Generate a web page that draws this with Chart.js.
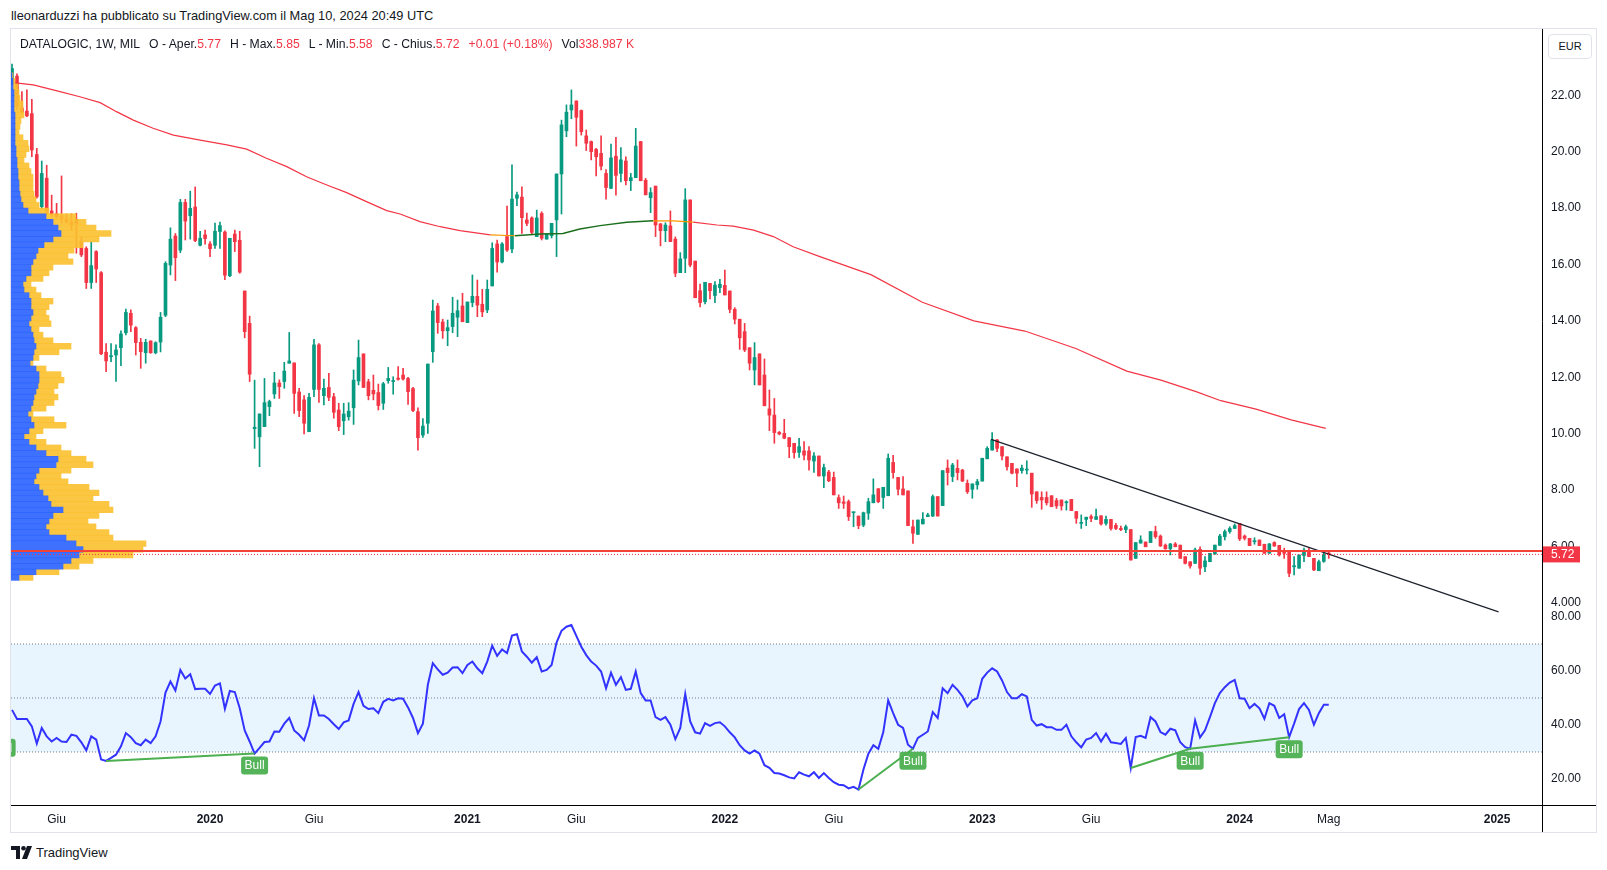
<!DOCTYPE html>
<html>
<head>
<meta charset="utf-8">
<script src="https://cdn.jsdelivr.net/npm/chart.js@4.4.1/dist/chart.umd.min.js"></script>
<style>
  body { margin: 0; width: 1607px; height: 870px; position: relative; overflow: hidden; background: #fff;
         font-family: "Liberation Sans", Arial, sans-serif; color: #131722; }
  #title { position: absolute; left: 11px; top: 8px; font-size: 12.8px; white-space: nowrap; }
  #frame { position: absolute; left: 10px; top: 28px; width: 1587px; height: 805px; border: 1px solid #e0e3eb; box-sizing: border-box; }
  #c { position: absolute; left: 11px; top: 29px; }
  #legend { position: absolute; left: 20px; top: 37px; font-size: 12.2px; white-space: nowrap; }
  #legend .r { color: #f23645; }
  #legend .gap { display: inline-block; width: 9px; }
  #eur { position: absolute; left: 1548px; top: 34px; width: 44px; height: 25px; border: 1px solid #e0e3eb; border-radius: 4px;
         box-sizing: border-box; font-size: 11px; text-align: center; line-height: 23px; background: #fff; }
  .ln { position: absolute; background: #000; }
  #logo { position: absolute; left: 11px; top: 845px; font-size: 13px; display: flex; align-items: center; gap: 3px; }
</style>
</head>
<body>
<div id="title">lleonarduzzi ha pubblicato su TradingView.com il Mag 10, 2024 20:49 UTC</div>
<div id="frame"></div>
<canvas id="c" width="1585" height="803"></canvas>
<div id="legend">DATALOGIC, 1W, MIL<span class="gap"></span>O - Aper.<span class="r">5.77</span><span class="gap"></span>H - Max.<span class="r">5.85</span><span class="gap"></span>L - Min.<span class="r">5.58</span><span class="gap"></span>C - Chius.<span class="r">5.72</span><span class="gap"></span><span class="r">+0.01 (+0.18%)</span><span class="gap"></span>Vol<span class="r">338.987 K</span></div>
<div id="eur">EUR</div>
<div class="ln" style="left:1542px;top:805px;width:1px;height:27px"></div>
<div class="ln" style="left:1542px;top:805px;width:54px;height:1px"></div>
<div id="logo"><svg width="22" height="13" viewBox="0 0 22 13"><path d="M0 0h9v13H5V4H0z" fill="#131722"/><circle cx="12.5" cy="2.3" r="2.3" fill="#131722"/><path d="M16 0h5l-5 13h-5z" fill="#131722"/></svg><span>TradingView</span></div>

<script>
// weekly candles, week 0 = 2019-04-01 ... week 266 = 2024-05-06
const opens = [
  22.45,22.68,21.55,21.44,21.35,19.9,18.05,19.06,17.9,17.8,
  17.72,17.62,17.5,17.6,16.81,16.57,15.36,16.46,15.71,12.89,
  12.73,12.79,13.05,13.58,14.27,13.76,13.24,12.87,13.29,12.87,
  13.25,14.2,15.98,17.01,16.51,18.2,17.73,18.04,16.68,17.05,
  16.73,16.68,17.17,17.15,15.6,17.08,16.86,15.06,13.91,10.18,
  9.89,10.25,10.96,11.41,11.8,11.85,12.5,12.51,11.48,11.2,
  10.07,11.57,13.15,11.35,11.64,11.31,10.84,10.46,10.6,10.92,
  11.87,12.83,11.84,11.54,11.46,11.08,11.88,11.85,11.97,12.08,
  11.96,11.6,10.78,9.95,10.37,12.91,14.53,13.96,13.65,13.8,
  14.13,14.53,13.94,14.65,14.87,14.59,14.39,15.24,16.73,16.09,
  16.99,16.55,18.35,18.39,17.58,17.65,16.99,17.81,16.9,17.02,
  17.58,19.21,20.74,21.48,21.8,21.46,20.56,20.36,20.08,19.94,
  19.23,18.7,19.84,19.23,19.67,18.97,19.08,20.36,18.99,18.37,
  18.78,17.44,17.2,17.37,16.9,15.71,16.22,18.29,16.12,15.07,
  14.68,15.33,14.9,15.18,15.26,15.06,14.41,14.06,13.62,13.05,
  12.26,12.83,12.08,10.88,10.66,10.05,10.01,9.86,9.66,9.34,
  9.39,9.39,9.03,9.21,8.5,8.64,8.45,7.73,7.58,7.59,
  7.2,7.08,6.76,7.18,7.55,8.05,7.74,7.8,8.98,8.45,
  8.04,7.97,6.7,6.43,6.8,7.06,7.08,7.77,7.45,8.78,
  8.48,8.77,8.71,8.24,8.03,8.19,8.32,9.11,9.42,9.78,
  9.54,9.18,8.95,8.75,8.69,8.71,8.6,7.94,7.74,7.74,
  7.8,7.63,7.65,7.55,7.67,7.24,6.82,6.96,7.06,6.96,
  7.09,6.82,6.96,6.75,6.64,6.6,6.6,5.58,6.12,6.16,
  6.14,6.53,6.37,6.05,5.92,6.09,6.05,5.64,5.46,5.4,
  5.9,5.28,5.46,5.73,6.04,6.35,6.53,6.64,6.82,6.37,
  6.29,6.17,6.23,6.08,5.76,6.14,6.04,5.82,5.82,5.28,
  5.23,5.68,5.85,5.58,5.14,5.47,5.77
];
const highs = [
  23.11,22.76,22.13,22.19,21.86,20.12,19.67,19.52,18.46,18.17,
  19.14,17.79,17.8,17.82,16.99,16.63,16.81,16.49,15.75,13.2,
  13.2,13.15,13.65,14.42,14.39,13.8,13.38,13.35,13.29,13.26,
  14.3,16.1,17.3,17.1,18.31,18.31,18.6,18.75,17.18,17.22,
  16.81,17.47,17.5,17.19,16.93,17.22,17.18,15.06,14.17,11.9,
  10.7,11.96,11.19,12.18,11.91,12.53,13.59,12.51,11.61,11.35,
  11.43,13.35,13.2,11.94,12.14,11.43,11.08,11.08,11.1,12.26,
  13.32,12.83,11.93,12.08,11.76,11.82,12.35,12.02,12.38,12.32,
  12.0,11.64,10.92,10.54,12.47,14.74,14.62,14.06,14.03,14.84,
  14.74,14.98,14.67,15.63,15.45,15.12,15.45,16.77,16.87,16.78,
  18.07,19.53,18.57,18.75,17.82,17.69,17.93,17.87,17.08,17.46,
  19.21,21.12,21.66,22.19,21.8,21.48,20.77,20.38,20.12,20.56,
  19.37,20.27,20.51,20.15,19.82,19.23,20.83,20.36,19.05,18.72,
  18.78,17.46,17.48,17.9,16.98,16.42,18.69,18.29,16.12,15.31,
  15.37,15.33,15.39,15.47,15.8,15.06,14.47,14.06,13.91,13.05,
  13.23,12.83,12.65,11.55,11.25,10.08,10.51,9.86,9.66,9.84,
  9.72,9.54,9.33,9.21,8.92,8.7,8.64,7.83,7.79,7.65,
  7.22,7.08,7.22,7.71,8.4,8.05,8.1,9.28,9.23,8.45,
  8.48,7.97,6.94,6.94,7.2,7.18,7.83,7.77,8.69,9.07,
  8.95,9.07,8.74,8.36,8.22,8.38,9.13,9.54,10.04,9.8,
  9.54,9.18,8.95,8.75,8.89,9.04,8.6,7.94,7.94,7.94,
  7.8,7.71,7.65,7.62,7.67,7.24,7.12,7.04,7.12,7.33,
  7.09,7.08,6.96,6.82,6.72,6.76,6.6,6.14,6.38,6.16,
  6.53,6.72,6.41,6.09,6.11,6.14,6.05,5.64,5.46,5.94,
  5.99,5.64,5.76,6.05,6.43,6.59,6.7,6.8,6.82,6.41,
  6.29,6.31,6.23,6.08,6.11,6.17,6.04,5.94,5.82,5.64,
  5.7,5.94,5.94,5.58,5.52,5.76,5.85
];
const lows = [
  22.37,21.5,21.36,21.24,19.82,18.35,17.99,17.76,17.7,17.64,
  17.46,17.46,17.2,16.4,16.28,15.15,15.15,15.36,12.8,12.2,
  12.55,11.85,12.41,13.5,13.62,12.79,12.32,12.5,12.85,12.83,
  12.9,14.15,15.63,15.43,16.42,16.87,16.9,16.81,16.66,16.72,
  16.28,16.57,16.57,15.46,15.57,16.46,15.69,13.4,11.85,9.48,
  8.83,10.25,10.64,11.25,11.25,11.61,12.5,10.72,10.6,9.99,
  10.07,11.31,11.11,11.02,11.17,10.55,10.11,9.97,10.48,10.33,
  11.73,11.64,11.2,11.2,10.84,10.86,11.79,11.4,11.9,11.9,
  11.04,10.78,9.42,9.87,10.01,12.53,13.56,13.38,13.12,13.58,
  13.44,13.97,13.94,14.5,14.15,14.15,14.29,15.24,15.73,16.06,
  16.46,16.42,18.09,17.1,17.38,17.07,16.99,16.87,16.9,16.94,
  16.28,17.79,20.53,21.17,20.2,20.59,20.04,19.71,19.14,19.35,
  18.32,18.7,18.46,18.93,18.82,18.62,19.08,18.97,18.47,17.84,
  16.99,16.66,16.81,16.81,15.57,15.71,15.71,15.92,14.82,14.5,
  14.6,14.78,14.65,15.0,14.92,14.29,13.89,12.99,12.91,12.26,
  11.73,11.73,10.99,10.11,9.66,9.96,9.82,9.15,9.13,9.16,
  9.07,8.71,8.63,8.5,8.09,8.3,7.83,7.35,7.35,6.92,
  6.7,6.63,6.7,6.96,7.55,7.55,7.35,7.8,8.42,7.83,
  7.83,6.74,6.11,6.43,6.8,7.06,7.06,7.08,7.45,8.18,
  8.3,8.36,8.3,7.88,7.71,8.03,8.32,9.11,9.42,9.36,
  9.07,8.71,8.57,8.12,8.6,8.57,7.39,7.53,7.32,7.47,
  7.41,7.35,7.29,7.29,7.27,6.82,6.64,6.74,6.88,6.96,
  6.76,6.76,6.58,6.6,6.56,6.49,5.52,5.58,6.12,5.99,
  6.14,6.29,6.0,5.9,5.7,5.99,5.58,5.38,5.23,5.4,
  5.01,5.11,5.46,5.73,6.04,6.23,6.47,6.64,6.21,6.23,
  6.03,6.08,6.03,5.76,5.76,6.0,5.66,5.58,4.93,4.99,
  5.23,5.46,5.64,5.14,5.14,5.44,5.58
];
const closes = [
  22.95,21.6,21.4,21.27,20.06,18.4,19.23,17.9,17.78,17.7,
  17.6,17.52,17.4,17.46,16.34,15.36,15.96,15.84,12.83,12.58,
  12.76,12.97,13.54,14.3,13.85,13.23,12.91,13.24,12.87,13.23,
  14.13,16.04,16.9,16.24,18.2,17.54,17.99,16.85,16.93,16.92,
  16.56,17.18,17.38,15.62,16.93,16.81,15.73,13.62,12.11,10.23,
  10.7,11.1,11.14,11.8,11.67,12.22,12.58,11.43,10.82,10.37,
  11.29,13.15,11.57,11.61,11.29,10.76,10.25,10.7,10.8,11.9,
  12.7,11.64,11.35,11.41,11.0,11.77,11.96,11.86,11.93,11.94,
  11.49,10.82,9.86,10.27,12.47,14.35,13.94,13.65,13.76,14.27,
  14.36,13.97,14.67,14.87,14.56,14.32,15.12,16.57,16.09,16.73,
  16.51,18.32,18.47,17.66,17.46,17.14,17.65,16.93,17.08,17.46,
  19.21,20.95,21.4,21.66,21.22,20.71,20.3,20.0,19.82,19.49,
  18.73,19.78,19.16,19.71,18.97,19.08,20.2,18.97,18.47,18.55,
  17.4,17.2,17.4,16.81,15.69,16.2,18.29,15.98,14.82,14.65,
  15.37,15.07,15.27,15.3,14.92,14.41,14.06,13.4,12.97,12.5,
  12.7,11.73,10.99,10.66,10.04,9.99,9.84,9.54,9.33,9.54,
  9.24,9.07,9.21,8.5,8.8,8.33,7.83,7.55,7.53,7.06,
  7.22,6.74,7.2,7.59,7.83,7.59,8.1,9.13,8.62,8.03,
  7.83,6.74,6.47,6.94,6.97,7.12,7.77,7.08,8.69,8.62,
  8.89,8.62,8.32,7.94,8.22,8.3,9.13,9.48,9.78,9.48,
  9.21,8.83,8.6,8.6,8.78,8.74,7.86,7.63,7.65,7.55,
  7.41,7.44,7.44,7.58,7.27,7.0,6.85,7.04,7.0,7.06,
  6.8,6.96,6.64,6.64,6.6,6.7,5.52,6.14,6.23,5.99,
  6.53,6.35,6.02,5.92,6.09,5.99,5.58,5.4,5.31,5.88,
  5.23,5.49,5.76,6.05,6.37,6.53,6.64,6.74,6.27,6.29,
  6.03,6.2,6.03,5.76,6.09,6.02,5.7,5.76,5.05,5.32,
  5.7,5.87,5.64,5.17,5.46,5.71,5.72
];

// RSI(14), one value per week
const rsi = [
  45.6,42.2,42.2,42.2,39.5,33.1,38.9,35.8,33.9,35.2,
  33.9,33.7,36.4,36.0,33.6,30.6,35.8,34.6,27.2,26.7,
  27.8,29.0,32.1,37.0,35.5,33.3,32.5,34.6,33.3,35.8,
  41.3,52.0,56.1,52.8,60.4,57.2,58.8,53.3,53.4,53.4,
  51.5,54.6,55.4,46.0,52.6,52.2,46.2,38.0,33.9,29.4,
  31.5,33.7,33.9,37.6,37.5,40.5,42.6,38.0,36.4,34.3,
  39.8,49.9,43.5,43.5,42.2,40.3,38.5,41.0,41.7,47.8,
  52.2,47.1,45.9,46.2,44.4,48.6,49.7,49.1,49.9,49.7,
  46.5,42.6,37.0,40.5,54.9,62.9,60.6,58.6,59.4,61.3,
  61.4,59.2,62.2,63.5,61.0,59.2,63.5,69.4,65.6,68.0,
  66.6,73.1,73.6,67.2,65.3,63.1,65.1,59.8,60.4,62.2,
  70.5,74.9,76.4,77.0,73.0,69.0,65.9,63.5,62.0,59.8,
  53.6,59.4,54.9,57.7,53.0,53.4,59.8,51.8,49.1,49.1,
  42.9,41.9,42.9,40.1,34.8,38.9,51.5,41.3,37.3,36.8,
  40.7,39.7,40.7,41.0,39.5,37.3,35.4,32.5,30.6,29.4,
  30.6,29.4,25.1,24.1,22.2,22.0,21.4,20.6,20.2,22.5,
  21.6,21.0,22.5,20.4,22.2,20.4,18.8,17.9,17.7,16.5,
  17.1,16.1,23.5,29.4,32.5,31.2,37.3,49.1,44.4,40.1,
  38.9,32.7,31.2,35.2,36.4,37.6,44.8,42.6,53.6,51.8,
  54.9,53.0,50.6,46.9,49.1,49.9,57.1,59.4,61.0,59.8,
  56.5,52.2,49.9,49.9,51.4,50.6,41.9,39.8,40.3,39.2,
  39.2,38.2,38.2,40.1,35.8,33.6,31.7,34.6,35.2,37.0,
  33.9,36.8,33.6,33.3,33.0,35.2,24.1,35.5,36.0,35.2,
  42.9,41.3,37.4,36.4,38.6,38.0,33.6,31.8,31.2,41.7,
  35.4,38.0,42.9,48.1,51.8,54.0,55.7,56.7,49.9,49.7,
  46.2,47.8,46.2,42.3,48.1,47.1,42.6,44.0,35.5,40.5,
  45.9,48.1,45.6,40.1,44.4,47.5,47.5
];

// moving average, read as pieces (falling / flat / rising)
const maFall1Weeks = [0.25,4.3,9.7,13.7,17.8,21.1,24.5,28.5,32.6,38,43.4,47.4,51.4,55.5,59.5,63.6,67.6,71.6,75.7,78.4,82.4,86.5,90.5,96.6];
const maFall1Values = [22.45,22.37,22.13,21.95,21.74,21.42,21.12,20.83,20.59,20.41,20.24,20.09,19.77,19.47,19.11,18.82,18.55,18.23,17.91,17.79,17.52,17.34,17.2,17.05];
const maFlat1Weeks = [96.6,101.6];
const maFlat1Values = [17.05,17.02];
const maRiseWeeks = [101.6,106.7,111.3,114.7,118.8,124.2,129.5];
const maRiseValues = [17.02,17.08,17.1,17.26,17.38,17.5,17.55];
const maFlat2Weeks = [129.5,133.6,137.6];
const maFlat2Values = [17.55,17.55,17.5];
const maFall2Weeks = [137.6,142.4,145.7,149.8,153.8,157.8,163.2,173.5,183.9,194.3,204.6,214.9,225.2,232.1,239.2,244.2,251.3,258.4,265.4];
const maFall2Values = [17.5,17.4,17.36,17.22,16.99,16.63,16.28,15.64,14.66,14.0,13.64,13.02,12.22,11.9,11.49,11.17,10.87,10.49,10.19];

// drawn trendline and horizontal level
const trendWeeks = [197.8, 300.3];
const trendValues = [9.8, 3.68];
const levelPrice = 5.84;

// volume profile rows (price centre, up volume, down volume)
const vpPrice = [4.9,5.1,5.3,5.5,5.7,5.9,6.1,6.3,6.5,6.7,6.9,7.1,7.3,7.5,7.7,7.9,8.1,8.3,8.5,8.7,
  8.9,9.1,9.3,9.5,9.7,9.9,10.1,10.3,10.5,10.7,10.9,11.1,11.3,11.5,11.7,11.9,12.1,12.3,12.5,12.7,
  12.9,13.1,13.3,13.5,13.7,13.9,14.1,14.3,14.5,14.7,14.9,15.1,15.3,15.5,15.7,15.9,16.1,16.3,16.5,16.7,
  16.9,17.1,17.3,17.5,17.7,17.9,18.1,18.3,18.5,18.7,18.9,19.1,19.3,19.5,19.7,19.9,20.1,20.3,20.5,20.7,
  20.9,21.1,21.3,21.5,21.7,21.9,22.1,22.3,22.5,22.7];
const vpUp = [8,25,52,60,68,72,65,55,38,35,38,42,52,40,37,32,28,23,25,28,
  45,47,35,25,18,13,18,23,20,17,20,22,23,25,27,28,28,25,19,22,
  23,25,23,22,20,18,20,22,20,20,18,13,12,15,20,20,22,25,27,33,
  42,50,47,42,35,17,12,10,9,8,8,7,7,6,6,5,5,4,4,4,
  4,4,4,3,3,3,3,2,2,1];
const vpDown = [14,23,16,22,54,60,70,47,60,50,39,46,50,58,45,56,50,34,25,32,
  37,28,25,25,17,12,14,32,23,5,15,21,24,18,20,25,22,10,3,6,
  25,35,19,10,8,22,18,13,18,22,12,12,8,17,18,22,40,32,36,39,
  46,50,38,33,30,21,16,15,14,14,14,15,13,12,7,10,13,13,8,4,
  5,6,9,9,9,6,5,5,2,1];

// RSI bullish divergences
const divFrom = [19, 171, 226, 238];
const divTo = [49, 182, 238, 258];
const bullWeeks = [-2, 49, 182, 238, 258];
const bullRsi = [36.0, 29.4, 31.2, 31.2, 35.5];

// axes
const tickWeeks = [9, 40, 61, 92, 114, 144, 166, 196, 218, 248, 266, 300];
const tickLabels = ['Giu', '2020', 'Giu', '2021', 'Giu', '2022', 'Giu', '2023', 'Giu', '2024', 'Mag', '2025'];
const priceTicks = [4, 6, 8, 10, 12, 14, 16, 18, 20, 22];
const rsiTicks = [20, 40, 60, 80];

const X_MIN = -0.21, X_MAX = 309.08;
const P_MIN = 3.642, P_MAX = 24.351;
const R_MIN = 10.37, R_MAX = 81.48;

const GREEN = '#089981', RED = '#f23645';
const FONT = '"Liberation Sans", Arial, sans-serif';

const weeks = opens.map((_, i) => i);
const isUp = i => closes[i] >= opens[i];
const pts = (xs, ys) => xs.map((x, i) => ({x: x, y: ys[i]}));
const flat = v => [{x: X_MIN, y: v}, {x: X_MAX, y: v}];

const lineBase = {type: 'line', pointRadius: 0, tension: 0, fill: false};

const datasets = [
  Object.assign({}, lineBase, {label: 'level', data: flat(levelPrice), borderColor: '#f44336', borderWidth: 2, order: 1}),
  Object.assign({}, lineBase, {label: 'last', data: flat(closes[closes.length - 1]), borderColor: RED, borderWidth: 1, borderDash: [1, 2], order: 1}),
  Object.assign({}, lineBase, {label: 'trend', data: pts(trendWeeks, trendValues), borderColor: '#1e222d', borderWidth: 1.2, order: 2}),
  {type: 'bar', label: 'vpUp', indexAxis: 'y', xAxisID: 'xv', yAxisID: 'y', grouped: false,
   data: vpPrice.map((p, i) => ({x: [0, vpUp[i]], y: p})),
   backgroundColor: 'rgba(41,98,255,0.9)', barThickness: 5.7, order: 3},
  {type: 'bar', label: 'vpDown', indexAxis: 'y', xAxisID: 'xv', yAxisID: 'y', grouped: false,
   data: vpPrice.map((p, i) => ({x: [vpUp[i], vpUp[i] + vpDown[i]], y: p})),
   backgroundColor: 'rgba(251,192,45,0.9)', barThickness: 5.7, order: 3},
  Object.assign({}, lineBase, {label: 'ma', data: pts(maFall1Weeks, maFall1Values), borderColor: RED, borderWidth: 1.2, order: 5}),
  Object.assign({}, lineBase, {label: 'ma', data: pts(maFlat1Weeks, maFlat1Values), borderColor: '#ff9800', borderWidth: 1.2, order: 5}),
  Object.assign({}, lineBase, {label: 'ma', data: pts(maRiseWeeks, maRiseValues), borderColor: '#1b6e1b', borderWidth: 1.4, order: 5}),
  Object.assign({}, lineBase, {label: 'ma', data: pts(maFlat2Weeks, maFlat2Values), borderColor: '#ff9800', borderWidth: 1.2, order: 5}),
  Object.assign({}, lineBase, {label: 'ma', data: pts(maFall2Weeks, maFall2Values), borderColor: RED, borderWidth: 1.2, order: 5}),
  {type: 'bar', label: 'body', grouped: false, yAxisID: 'y',
   data: weeks.map(i => ({x: i, y: [opens[i], closes[i]]})),
   backgroundColor: c => isUp(c.dataIndex) ? GREEN : RED, barThickness: 3, minBarLength: 1, order: 6},
  {type: 'bar', label: 'wick', grouped: false, yAxisID: 'y',
   data: weeks.map(i => ({x: i, y: [lows[i], highs[i]]})),
   backgroundColor: c => isUp(c.dataIndex) ? GREEN : RED, barThickness: 1, order: 7},
  // RSI pane
  Object.assign({}, lineBase, {label: 'rsi', yAxisID: 'yr', data: weeks.map(i => ({x: i, y: rsi[i]})), borderColor: '#3333ff', borderWidth: 2, order: 2}),
  Object.assign({}, lineBase, {label: 'band70', yAxisID: 'yr', data: flat(70), borderColor: '#787b86', borderWidth: 1, borderDash: [1, 2],
    fill: {value: 30}, backgroundColor: 'rgba(33,150,243,0.1)', order: 9}),
  Object.assign({}, lineBase, {label: 'band50', yAxisID: 'yr', data: flat(50), borderColor: '#787b86', borderWidth: 1, borderDash: [1, 2], order: 9}),
  Object.assign({}, lineBase, {label: 'band30', yAxisID: 'yr', data: flat(30), borderColor: '#787b86', borderWidth: 1, borderDash: [1, 2], order: 9})
];
divFrom.forEach((a, i) => {
  const b = divTo[i];
  datasets.push(Object.assign({}, lineBase, {label: 'div', yAxisID: 'yr',
    data: [{x: a, y: rsi[a]}, {x: b, y: rsi[b]}], borderColor: '#4caf50', borderWidth: 2, order: 1}));
});

const overlay = {
  id: 'overlay',
  afterDatasetsDraw(chart) {
    const {ctx, chartArea: a, scales} = chart;
    ctx.save();
    ctx.beginPath();
    ctx.rect(a.left, a.top, a.right - a.left, a.bottom - a.top);
    ctx.clip();
    ctx.font = '12px ' + FONT;
    ctx.textAlign = 'center';
    ctx.textBaseline = 'middle';
    bullWeeks.forEach((w, i) => {
      const x = scales.x.getPixelForValue(w);
      const y = scales.yr.getPixelForValue(bullRsi[i]) + 3;
      ctx.fillStyle = 'rgba(76,175,80,0.95)';
      ctx.beginPath();
      ctx.roundRect(x - 13.5, y, 27, 18, 3);
      ctx.fill();
      ctx.fillStyle = '#fff';
      ctx.fillText('Bull', x, y + 9.5);
    });
    ctx.restore();
  },
  afterDraw(chart) {
    const {ctx, chartArea: a, scales} = chart;
    const last = closes[closes.length - 1];
    const y = scales.y.getPixelForValue(last);
    ctx.save();
    ctx.fillStyle = RED;
    ctx.fillRect(a.right + 1, y - 8, 37, 16);
    ctx.fillStyle = '#fff';
    ctx.font = '12px ' + FONT;
    ctx.textAlign = 'left';
    ctx.textBaseline = 'middle';
    ctx.fillText(last.toFixed(2), a.right + 9, y + 0.5);
    ctx.restore();
  }
};

const yAxisCommon = {
  type: 'linear', position: 'right', stack: 'panes', bounds: 'data', offset: false, beginAtZero: false,
  grid: {display: false, drawTicks: false, offset: false},
  border: {display: true, color: '#000', width: 1},
  afterFit: s => { s.width = 54; s.paddingTop = 0; s.paddingBottom = 0; }
};

new Chart(document.getElementById('c'), {
  type: 'bar',
  data: {datasets: datasets},
  options: {
    responsive: false,
    devicePixelRatio: 1,
    animation: false,
    events: [],
    layout: {padding: 0},
    plugins: {legend: {display: false}, tooltip: {enabled: false}},
    scales: {
      x: {
        type: 'linear', position: 'bottom', min: X_MIN, max: X_MAX, bounds: 'data', offset: false,
        grid: {display: false, drawTicks: false, offset: false},
        border: {display: true, color: '#000', width: 1},
        ticks: {
          autoSkip: false, maxRotation: 0, padding: 7, color: '#131722',
          font: c => ({family: FONT, size: 12, weight: /^\d/.test(tickLabels[c.index] || '') ? 'bold' : 'normal'}),
          callback: (v, i) => tickLabels[i]
        },
        afterBuildTicks: s => { s.ticks = tickWeeks.map(v => ({value: v})); },
        afterFit: s => { s.height = 27; s.paddingLeft = 0; s.paddingRight = 0; }
      },
      xv: {type: 'linear', axis: 'x', display: false, min: 0, max: 1531, offset: false, beginAtZero: false},
      y: Object.assign({}, yAxisCommon, {
        stackWeight: 584, min: P_MIN, max: P_MAX,
        ticks: {autoSkip: false, padding: 9, color: '#131722', font: {family: FONT, size: 12},
                callback: v => v === 4 ? '4.000' : v.toFixed(2)},
        afterBuildTicks: s => { s.ticks = priceTicks.map(v => ({value: v})); }
      }),
      yr: Object.assign({}, yAxisCommon, {
        axis: 'y', stackWeight: 192, min: R_MIN, max: R_MAX,
        ticks: {autoSkip: false, padding: 9, color: '#131722', font: {family: FONT, size: 12},
                callback: v => v.toFixed(2)},
        afterBuildTicks: s => { s.ticks = rsiTicks.map(v => ({value: v})); }
      })
    }
  },
  plugins: [overlay]
});
</script>
</body>
</html>
